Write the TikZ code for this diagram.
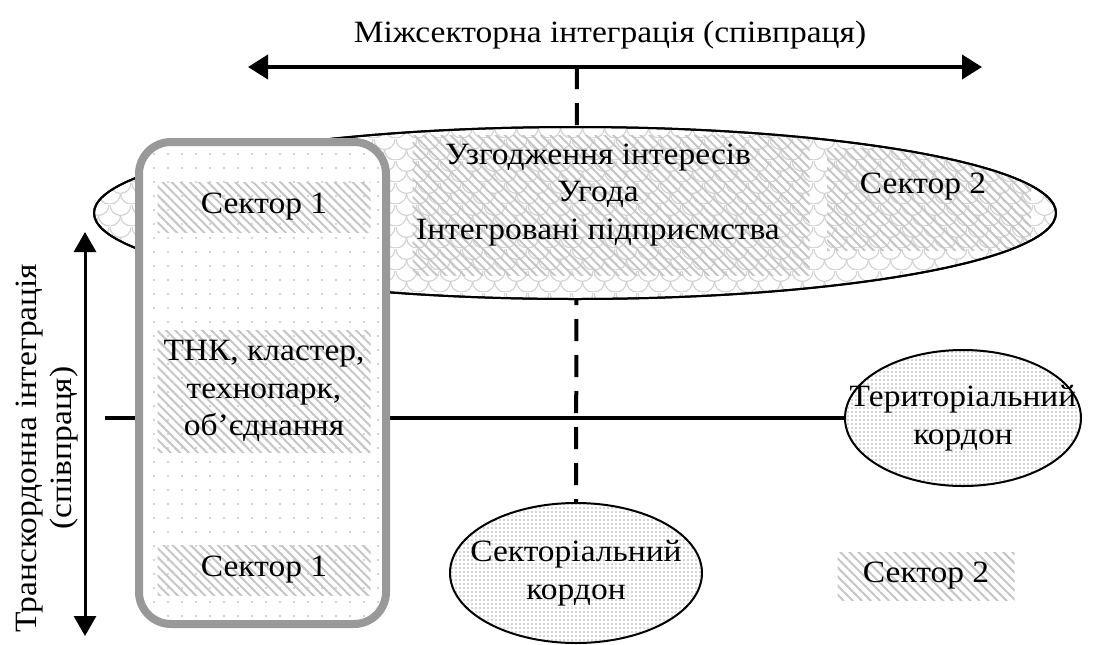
\documentclass[tikz,border=0pt]{standalone}
\usepackage{fontspec}
\setmainfont{Liberation Serif}[FakeStretch=1.08]
\usetikzlibrary{arrows.meta,patterns,patterns.meta,shapes.geometric}

\tikzdeclarepattern{
  name=scales, type=uncolored,
  bounding box={(0pt,0pt) and (11pt,11pt)},
  tile size={(11pt,11pt)},
  code={
    \draw[line width=0.6pt] (0pt,11pt) arc[start angle=180,end angle=360,radius=5.5pt];
    \draw[line width=0.6pt] (-5.5pt,5.5pt) arc[start angle=180,end angle=360,radius=5.5pt];
    \draw[line width=0.6pt] (5.5pt,5.5pt) arc[start angle=180,end angle=360,radius=5.5pt];
  }
}

\tikzset{
  txt/.style={font=\fontsize{15.5pt}{18.75pt}\selectfont, align=center, inner sep=0pt},
  hatch/.style={pattern={Lines[angle=-45,distance=3.2pt,line width=1pt]}, pattern color=gray!45, inner sep=0pt},
  kordon/.style={ellipse, draw, line width=1pt, preaction={fill=white},
    pattern={Dots[distance=2pt,radius=0.45pt]}, pattern color=gray!65, inner sep=0pt},
  bigell/.style={ellipse, draw, line width=1pt, preaction={fill=white},
    pattern=scales, pattern color=gray!35, inner sep=0pt},
  boxr/.style={rectangle, rounded corners=16pt, draw=gray!80, line width=4pt,
    preaction={fill=white}, pattern={Dots[distance=7pt,radius=0.6pt]}, pattern color=gray!45, inner sep=0pt},
  thick2/.style={line width=2pt},
  bigtip/.tip={Triangle[length=10pt,width=12pt]},
  sidetip/.tip={Triangle[length=10pt,width=11pt]}
}

\begin{document}
\begin{tikzpicture}[x=0.5pt,y=-0.5pt]
\useasboundingbox (0,0) rectangle (1094,644);

% title and top arrow
\node[txt] (title) at (610,35) {Міжсекторна інтеграція (співпраця)};
\coordinate (hl) at (248,67);
\coordinate (hr) at (982,67);
\draw[thick2, {bigtip}-{bigtip}] (hl) -- (hr);

% lower ellipses
\node[kordon, minimum width=126pt, minimum height=70pt] (sect) at (576,573) {};
\node[txt] (secttext) at (sect.center) {Секторіальний\\кордон};
\node[kordon, minimum width=118pt, minimum height=68pt] (terr) at (963,418) {};
\node[txt] (terrtext) at (terr.center) {Територіальний\\кордон};

% dashed vertical line
\coordinate (dtop) at (577,67);
\draw[thick2, dash pattern=on 11pt off 7pt] (dtop) -- (sect.north);

% big ellipse
\node[bigell, minimum width=481pt, minimum height=86pt] (big) at (575,213) {};
\begin{scope}
  \clip (575,213) ellipse [x radius=240.5pt, y radius=43pt];
  \node[hatch, minimum width=198.5pt, minimum height=70pt] (central) at (611,205) {};
  \node[hatch, minimum width=102pt, minimum height=51pt] (s2hatch) at (929,199) {};
\end{scope}
\draw[line width=1pt] (575,213) ellipse [x radius=240.5pt, y radius=43pt];
\node[txt] (agree) at (598,195) {Узгодження інтересів\\Угода\\Інтегровані підприємства};
\node[txt] (s2top) at (923,187) {Сектор 2};

% horizontal line
\coordinate (hline) at (105,418);
\draw[thick2] (hline) -- (terr.west);

% rounded box
\node[boxr, minimum width=123.5pt, minimum height=241pt] (box) at (262.5,383) {};
\node[hatch, txt, minimum width=106.5pt, minimum height=25pt] (s1top) at (264,207) {Сектор 1};
\node[hatch, txt, minimum width=106.5pt, minimum height=61pt] (tnk) at (264,391) {ТНК, кластер,\\технопарк,\\об’єднання};
\node[hatch, txt, minimum width=106.5pt, minimum height=25pt] (s1bot) at (264,570) {Сектор 1};

% bottom right sector 2
\node[hatch, txt, minimum width=88.5pt, minimum height=24pt] (s2bot) at (926,576) {Сектор 2};

% left vertical arrow
\coordinate (vt) at (85,232);
\coordinate (vb) at (85,636);
\draw[line width=1.5pt, {sidetip}-{sidetip}] (vt) -- (vb);
\node[txt, rotate=90, font=\fontsize{15.5pt}{17.5pt}\selectfont] (trans) at (47,448) {Транскордонна інтеграція\\(співпраця)};
\end{tikzpicture}
\end{document}
